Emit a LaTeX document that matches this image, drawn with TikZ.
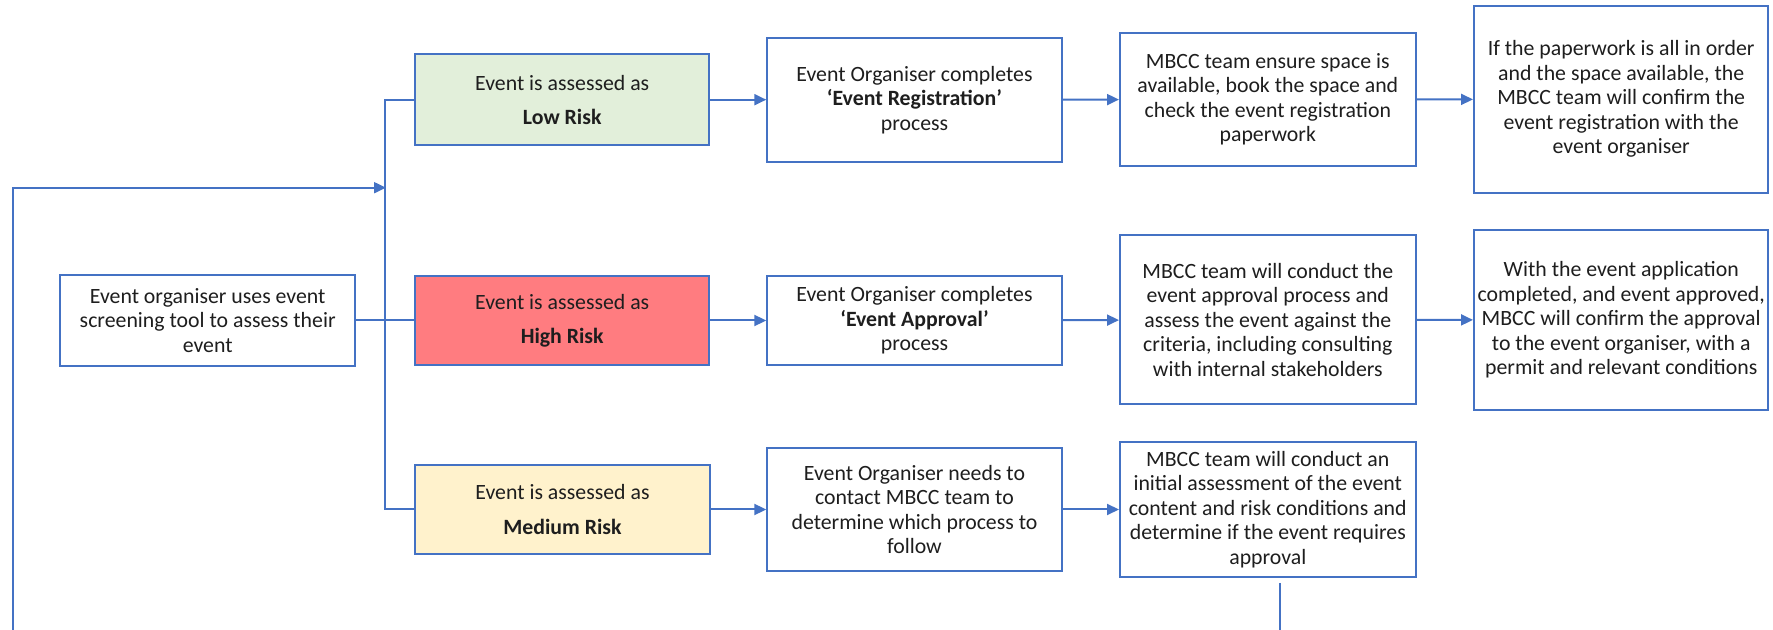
\documentclass[tikz,border=0pt]{standalone}
\usepackage{fontspec}
\setmainfont{Carlito}
\usepackage{tikz}
\usetikzlibrary{arrows.meta}

\definecolor{lineblue}{HTML}{4472C4}
\definecolor{lowfill}{HTML}{E2EFDA}
\definecolor{highfill}{HTML}{FF7C80}
\definecolor{medfill}{HTML}{FFF2CC}
\definecolor{txt}{HTML}{1E1E1E}

\tikzset{
  box/.style={draw=lineblue, line width=1pt, fill=white, align=center,
    inner xsep=0pt, text=txt, font=\fontsize{10.9}{12.25}\selectfont},
  line/.style={draw=lineblue, line width=1pt},
  arrow/.style={line, -{Triangle[length=6pt,width=5.5pt]}}
}

\begin{document}
\begin{tikzpicture}[x=0.5pt,y=-0.5pt]
\useasboundingbox (0,0) rectangle (1773,630);
% Screening step
\node[box, minimum width=147.7pt, minimum height=45.3pt] (start) at (207.7,320.5)
  {Event organiser uses event\\screening tool to assess their\\event};
% Risk levels
\node[box, fill=lowfill, minimum width=147.2pt, minimum height=45.3pt] (low) at (562.2,99.7)
  {Event is assessed as\\[4.9pt]\textbf{Low Risk}};
\node[box, fill=highfill, minimum width=147.2pt, minimum height=44.8pt] (high) at (562.2,320.5)
  {Event is assessed as\\[4.9pt]\textbf{High Risk}};
\node[box, fill=medfill, minimum width=147.2pt, minimum height=44.7pt] (med) at (562.5,509.5)
  {Event is assessed as\\[4.9pt]\textbf{Medium Risk}};
% Organiser processes
\node[box, minimum width=147.2pt, minimum height=62pt] (reg) at (914.5,99.7)
  {Event Organiser completes\\\textbf{‘Event Registration’}\\process};
\node[box, minimum width=147.2pt, minimum height=44.8pt] (appr) at (914.5,320.5)
  {Event Organiser completes\\\textbf{‘Event Approval’}\\process};
\node[box, minimum width=147.2pt, minimum height=61.2pt] (contact) at (914.5,509.5)
  {Event Organiser needs to\\contact MBCC team to\\determine which process to\\follow};
% MBCC team steps
\node[box, minimum width=147.8pt, minimum height=66.2pt] (space) at (1267.8,99.5)
  {MBCC team ensure space is\\available, book the space and\\check the event registration\\paperwork};
\node[box, minimum width=147.8pt, minimum height=84.5pt] (conduct) at (1267.8,319.8)
  {MBCC team will conduct the\\event approval process and\\assess the event against the\\criteria, including consulting\\with internal stakeholders};
\node[box, minimum width=147.8pt, minimum height=67.8pt] (initial) at (1267.8,509.5)
  {MBCC team will conduct an\\initial assessment of the event\\content and risk conditions and\\determine if the event requires\\approval};
% Confirmations
\node[box, minimum width=147.2pt, minimum height=93.3pt] (confirm) at (1621.2,99.3)
  {If the paperwork is all in order\\and the space available, the\\MBCC team will confirm the\\event registration with the\\event organiser};
\node[box, minimum width=147.2pt, minimum height=90pt] (permit) at (1621.2,320)
  {With the event application\\completed, and event approved,\\MBCC will confirm the approval\\to the event organiser, with a\\permit and relevant conditions};
% Branching bus
\draw[line] (start.east) -- (high.west);
\draw[line] (low.west) -- ++(-29,0) |- (med.west);
% Loop back from below
\coordinate (loopend) at (13.3,630);
\coordinate (join) at (386,187.7);
\draw[arrow] (loopend) |- (join);
\coordinate (downend) at (1280,630);
\draw[line] (initial.south -| downend) ++(0,4.5) -- (downend);
% Row arrows
\draw[arrow] (low) -- (reg);
\draw[arrow] (reg) -- (space);
\draw[arrow] (space) -- (confirm);
\draw[arrow] (high) -- (appr);
\draw[arrow] (appr) -- (conduct);
\draw[arrow] (conduct) -- (permit);
\draw[arrow] (med) -- (contact);
\draw[arrow] (contact) -- (initial);
\end{tikzpicture}
\end{document}
